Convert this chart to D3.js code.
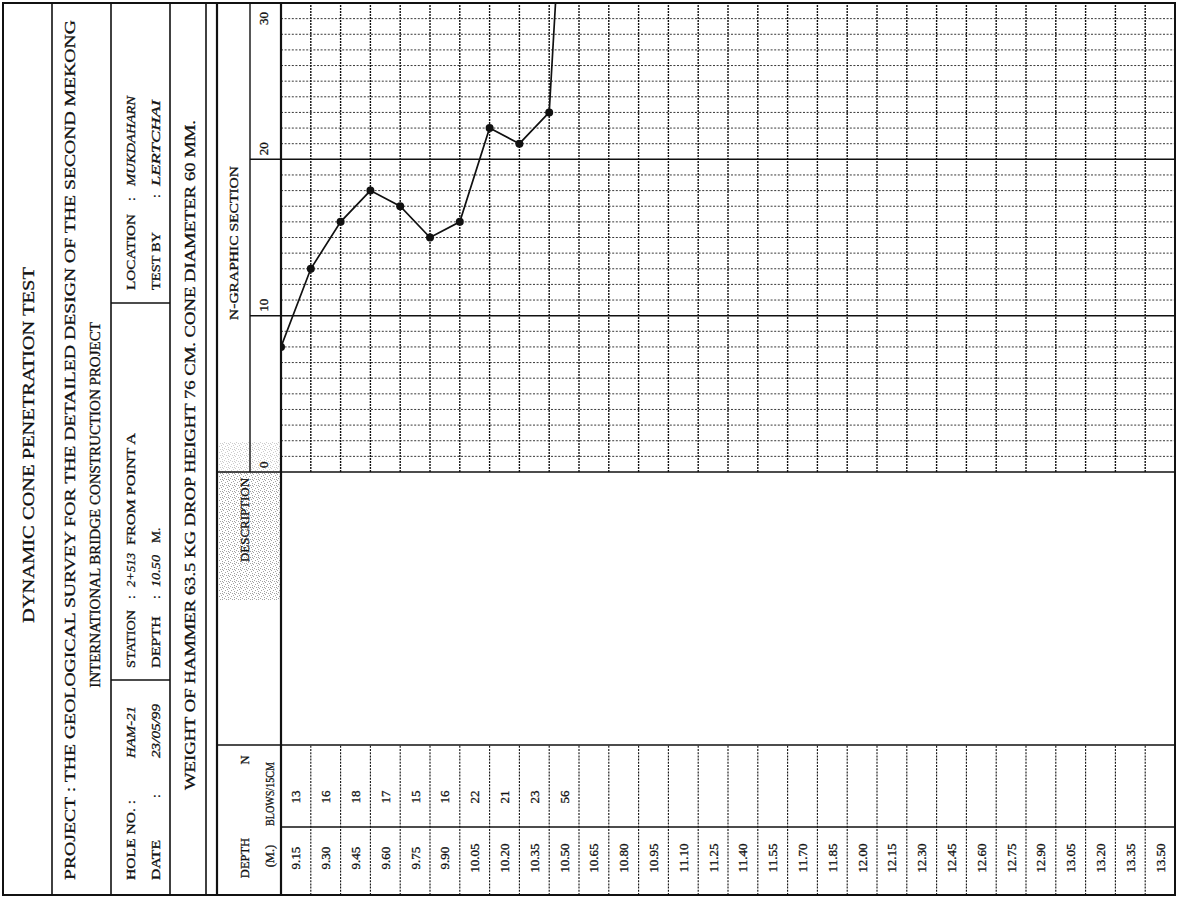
<!DOCTYPE html>
<html>
<head>
<meta charset="utf-8">
<script src="https://cdn.jsdelivr.net/npm/d3@7"></script>
<style>
  html, body { margin: 0; padding: 0; background: #fff; }
  svg { display: block; }
  text { font-family: "Liberation Serif", "DejaVu Serif", serif; fill: #111; stroke: #111; stroke-width: 0.3; }
</style>
</head>
<body>
<svg id="sheet" width="1181" height="898"></svg>
<script>
// ---- Test record -------------------------------------------------------
const depthLabels = ["9.15","9.30","9.45","9.60","9.75","9.90","10.05","10.20","10.35","10.50",
  "10.65","10.80","10.95","11.10","11.25","11.40","11.55","11.70","11.85","12.00",
  "12.15","12.30","12.45","12.60","12.75","12.90","13.05","13.20","13.35","13.50"];
const testDepths = [9.15, 9.30, 9.45, 9.60, 9.75, 9.90, 10.05, 10.20, 10.35, 10.50];
const blows = [13, 16, 18, 17, 15, 16, 22, 21, 23, 56];
// reading carried over from the previous sheet (9.00 m)
const carriedDepth = [9.00];
const carriedBlows = [8];
const nTicks = [0, 10, 20, 30];

// ---- Sheet layout (portrait page, rotated onto the landscape scan) -----
const PW = 898, PH = 1181;
const svg = d3.select("#sheet");
const page = svg.append("g").attr("transform", `translate(0,${PW}) rotate(-90)`);

const L = { left: 3, right: 895, top: 3, bottom: 1175,
  titleB: 52, projB: 111, holeB: 170, weightB: 206, headT: 217, scaleT: 250, bodyT: 281,
  depthR: 71, nR: 153, descR: 426 };

const yDepth = d3.scaleLinear().domain([9.00, 13.50]).range([L.bodyT, L.bottom]);
const xN = d3.scaleLinear().domain([0, 30]).range([L.descR, L.right]);

function line(g, x1, y1, x2, y2, w, dash) {
  const l = g.append("line").attr("x1", x1).attr("y1", y1).attr("x2", x2).attr("y2", y2)
    .attr("stroke", "#111").attr("stroke-width", w || 1);
  if (dash) l.attr("stroke-dasharray", dash);
  return l;
}
function text(g, s, x, y, size, opts = {}) {
  const t = g.append("text").attr("x", x).attr("y", y).attr("dy", "0.35em")
    .attr("font-size", size).text(s);
  if (opts.anchor) t.attr("text-anchor", opts.anchor);
  if (opts.italic) t.attr("font-style", "italic");
  if (opts.len) t.attr("textLength", opts.len).attr("lengthAdjust", "spacingAndGlyphs");
  return t;
}

// stipple shading behind the DESCRIPTION heading
const defs = svg.append("defs");
const pat = defs.append("pattern").attr("id", "stipple").attr("width", 6).attr("height", 6)
  .attr("patternUnits", "userSpaceOnUse");
[[0,0],[3,1],[1,3],[4,4],[2,5],[5,2],[4,0]].forEach(([a, b]) =>
  pat.append("rect").attr("x", a).attr("y", b).attr("width", 1).attr("height", 1).attr("fill", "#555"));
defs.append("clipPath").attr("id", "plotClip").append("rect")
  .attr("x", L.descR).attr("y", L.bodyT).attr("width", L.right - L.descR).attr("height", L.bottom - L.bodyT);

page.append("rect").attr("x", 298).attr("y", L.headT + 2).attr("width", L.descR - 298)
  .attr("height", L.bodyT - L.headT - 2).attr("fill", "url(#stipple)").attr("opacity", 0.55);
page.append("rect").attr("x", L.descR).attr("y", L.headT + 2).attr("width", 30)
  .attr("height", L.bodyT - L.headT - 3).attr("fill", "url(#stipple)").attr("opacity", 0.3);

// ---- Heading bands ----
text(page, "DYNAMIC CONE PENETRATION TEST", 453, 28, 17, { anchor: "middle", len: 356 });
text(page, "PROJECT  :  THE GEOLOGICAL SURVEY FOR THE DETAILED DESIGN OF THE  SECOND MEKONG", 18, 70, 15, { len: 860 });
text(page, "INTERNATIONAL BRIDGE CONSTRUCTION PROJECT", 393, 95, 15, { anchor: "middle" });

text(page, "HOLE NO.   :", 18, 130, 13.5, { len: 80 });
text(page, "HAM-21", 140, 130, 13.5, { italic: true, len: 52 });
text(page, "STATION", 230, 130, 13.5, { len: 58 });
text(page, ":", 299, 130, 13.5);
text(page, "2+513", 311, 130, 13.5, { italic: true, len: 34 });
text(page, "FROM POINT A", 353, 130, 13.5, { len: 112 });
text(page, "LOCATION", 608, 130, 13.5, { len: 76 });
text(page, ":", 697, 130, 13.5);
text(page, "MUKDAHARN", 712, 130, 13.5, { italic: true, len: 90 });

text(page, "DATE", 18, 155, 13.5, { len: 40 });
text(page, ":", 100, 155, 13.5);
text(page, "23/05/99", 140, 155, 13.5, { italic: true, len: 54 });
text(page, "DEPTH", 230, 155, 13.5, { len: 52 });
text(page, ":", 299, 155, 13.5);
text(page, "10.50", 311, 155, 13.5, { italic: true, len: 32 });
text(page, "M.", 355, 155, 13.5);
text(page, "TEST BY", 608, 155, 13.5, { len: 58 });
text(page, ":", 700, 155, 13.5);
text(page, "LERTCHAI", 712, 155, 13.5, { italic: true, len: 86 });

text(page, "WEIGHT OF HAMMER 63.5 KG DROP HEIGHT 76 CM. CONE DIAMETER 60 MM.", 108, 190, 14.5, { len: 670 });

// ---- Table heading ----
text(page, "DEPTH", 40, 245, 12.5, { anchor: "middle" });
text(page, "(M.)", 42, 270, 12.5, { anchor: "middle" });
text(page, "N", 138, 245, 12.5, { anchor: "middle" });
text(page, "BLOWS/15CM", 104, 270, 12, { anchor: "middle", len: 64 });
text(page, "DESCRIPTION", 378, 245, 12.5, { anchor: "middle", len: 84 });
text(page, "N-GRAPHIC SECTION", 655, 233, 13, { anchor: "middle", len: 154 });

// scale labels along the N axis
nTicks.forEach(v => {
  const x = v === 30 ? xN(v) - 22 : xN(v) + 4;
  text(page, String(v), x, 263, 13);
});

// ---- Graph grid ----
const grid = page.append("g");
d3.range(1, 30).filter(v => v % 10 !== 0).forEach(v =>
  line(grid, xN(v), L.bodyT, xN(v), L.bottom, 0.9, "2,1.6").attr("stroke", "#222"));
depthLabels.slice(0, -1).forEach(s => {
  const y = yDepth(+s);
  line(grid, L.descR, y, L.right, y, 1.4, "2,1");
});
[10, 20].forEach(v => line(grid, xN(v), L.scaleT, xN(v), L.bottom, 1.5));

// ---- Table body ----
const body = page.append("g");
depthLabels.slice(0, -1).forEach(s => {
  const y = yDepth(+s);
  line(body, L.left, y, L.nR, y, 1.1, "2,1.2");
});
depthLabels.forEach(s => {
  const yc = (yDepth(+s) + yDepth(+s - 0.15)) / 2;
  text(body, s, 40, yc, 13, { anchor: "middle" });
});
blows.forEach((n, i) => {
  const yc = (yDepth(testDepths[i]) + yDepth(testDepths[i] - 0.15)) / 2;
  text(body, String(n), 101, yc, 13, { anchor: "middle" });
});

// ---- Frame lines ----
const frame = page.append("g");
frame.append("rect").attr("x", L.left).attr("y", L.top).attr("width", L.right - L.left)
  .attr("height", L.bottom - L.top).attr("fill", "none").attr("stroke", "#111").attr("stroke-width", 2);
line(frame, L.left, L.titleB, L.right, L.titleB, 1.6);
line(frame, L.left, L.projB, L.right, L.projB, 1.6);
line(frame, L.left, L.holeB, L.right, L.holeB, 1.6);
line(frame, 218, L.projB, 218, L.holeB, 1.3);
line(frame, 595, L.projB, 595, L.holeB, 1.3);
line(frame, L.left, L.weightB, L.right, L.weightB, 1.6);
line(frame, L.left, L.headT, L.right, L.headT, 2.2);
line(frame, L.descR, L.scaleT, L.right, L.scaleT, 1.4);
line(frame, L.left, L.bodyT, L.right, L.bodyT, 2.2);
line(frame, L.depthR, L.bodyT, L.depthR, L.bottom, 1.4);
line(frame, L.nR, L.headT, L.nR, L.bottom, 1.3);
line(frame, L.descR, L.headT, L.descR, L.bottom, 1.6);

// ---- N curve ----
const pts = carriedDepth.map((d, i) => [d, carriedBlows[i]])
  .concat(testDepths.map((d, i) => [d, blows[i]]));
const plot = page.append("g").attr("clip-path", "url(#plotClip)");
plot.append("path").datum(pts)
  .attr("d", d3.line().x(p => xN(p[1])).y(p => yDepth(p[0])))
  .attr("fill", "none").attr("stroke", "#111").attr("stroke-width", 1.7);
plot.selectAll("circle").data(pts).join("circle")
  .attr("cx", p => xN(p[1])).attr("cy", p => yDepth(p[0])).attr("r", 4).attr("fill", "#111");
</script>
</body>
</html>
